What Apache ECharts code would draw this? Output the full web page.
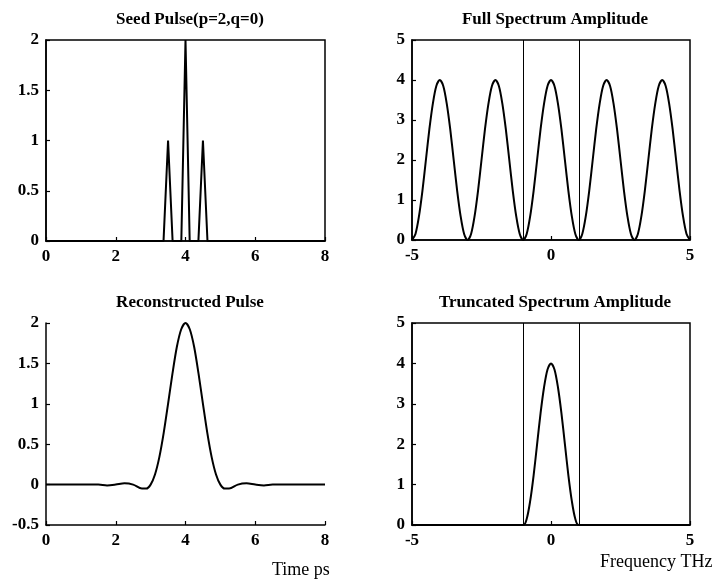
<!DOCTYPE html>
<html>
<head>
<meta charset="utf-8">
<script src="https://cdn.jsdelivr.net/npm/echarts@6/dist/echarts.min.js"></script>
<style>html,body{margin:0;padding:0;background:#fff;}#c{width:719px;height:581px;}</style>
</head>
<body>
<div id="c"></div>
<script>
// Seed pulse (time ps, amplitude)
const seedT = [0, 3.37, 3.5, 3.63, 3.88, 4.0, 4.12, 4.37, 4.5, 4.63, 8];
const seedA = [0, 0, 1, 0, 0, 2, 0, 0, 1, 0, 0];

// Full spectrum amplitude (frequency THz)
const fullF = [-5,-4.875,-4.75,-4.625,-4.5,-4.375,-4.25,-4.125,-4,-3.875,-3.75,-3.625,-3.5,-3.375,-3.25,-3.125,
  -3,-2.875,-2.75,-2.625,-2.5,-2.375,-2.25,-2.125,-2,-1.875,-1.75,-1.625,-1.5,-1.375,-1.25,-1.125,
  -1,-0.875,-0.75,-0.625,-0.5,-0.375,-0.25,-0.125,0,0.125,0.25,0.375,0.5,0.625,0.75,0.875,
  1,1.125,1.25,1.375,1.5,1.625,1.75,1.875,2,2.125,2.25,2.375,2.5,2.625,2.75,2.875,
  3,3.125,3.25,3.375,3.5,3.625,3.75,3.875,4,4.125,4.25,4.375,4.5,4.625,4.75,4.875,5];
const fullA = [0,0.15,0.59,1.23,2,2.77,3.41,3.85,4,3.85,3.41,2.77,2,1.23,0.59,0.15,
  0,0.15,0.59,1.23,2,2.77,3.41,3.85,4,3.85,3.41,2.77,2,1.23,0.59,0.15,
  0,0.15,0.59,1.23,2,2.77,3.41,3.85,4,3.85,3.41,2.77,2,1.23,0.59,0.15,
  0,0.15,0.59,1.23,2,2.77,3.41,3.85,4,3.85,3.41,2.77,2,1.23,0.59,0.15,
  0,0.15,0.59,1.23,2,2.77,3.41,3.85,4,3.85,3.41,2.77,2,1.23,0.59,0.15,0];

// Truncated spectrum amplitude
const truncF = [-5,-1,-0.875,-0.75,-0.625,-0.5,-0.375,-0.25,-0.125,0,0.125,0.25,0.375,0.5,0.625,0.75,0.875,1,5];
const truncA = [0,0,0.15,0.59,1.23,2,2.77,3.41,3.85,4,3.85,3.41,2.77,2,1.23,0.59,0.15,0,0];

// Cut-off frequencies (vertical lines)
const cutoffs = [-1, 1];

// Reconstructed pulse
const recT = [0,0.5,1,1.5,1.75,2,2.25,2.5,2.75,2.875,3,3.125,3.25,3.375,3.5,3.625,3.75,3.875,4,4.125,4.25,4.375,4.5,4.625,4.75,4.875,5,5.125,5.25,5.5,5.75,6,6.25,6.5,7,7.5,8];
const recA = [0,0,0,0,-0.01,0,0.016,0,-0.049,-0.049,0,0.125,0.34,0.64,1.0,1.37,1.70,1.92,2.0,1.92,1.70,1.37,1.0,0.64,0.34,0.125,0,-0.049,-0.049,0,0.016,0,-0.01,0,0,0,0];

// Titles and axis names
const titles = ['Seed Pulse(p=2,q=0)', 'Full Spectrum Amplitude', 'Reconstructed Pulse', 'Truncated Spectrum Amplitude'];
const xNames = ['Time ps', 'Frequency THz'];

const zip = (a, b) => a.map((v, i) => [v, b[i]]);
const FONT = 'Liberation Serif';

function axis(grid, min, max, interval) {
  return {
    type: 'value', gridIndex: grid, min, max, interval,
    axisLine: {show: true, onZero: false, lineStyle: {color: '#000', width: 1.5}},
    axisTick: {show: true, inside: true, length: 4, lineStyle: {color: '#000', width: 1.2}},
    axisLabel: {color: '#000', fontFamily: FONT, fontWeight: 'bold', fontSize: 17, margin: 7},
    splitLine: {show: false}
  };
}
const boxed = {show: true, borderColor: '#000', borderWidth: 1.5, backgroundColor: 'transparent'};
const lineStyle = {color: '#000', width: 2};
const vlines = {
  silent: true, symbol: 'none', label: {show: false},
  lineStyle: {color: '#000', width: 1, type: 'solid'},
  data: cutoffs.map(c => ({xAxis: c}))
};

const option = {
  backgroundColor: '#fff',
  animation: false,
  title: [
    {text: titles[0], left: 185, top: 6, textAlign: 'center'},
    {text: titles[1], left: 550, top: 6, textAlign: 'center'},
    {text: titles[2], left: 185, top: 289, textAlign: 'center'},
    {text: titles[3], left: 550, top: 289, textAlign: 'center'}
  ].map(t => Object.assign(t, {textStyle: {color: '#000', fontFamily: FONT, fontWeight: 'bold', fontSize: 17}})),
  graphic: [
    {type: 'text', left: 272, top: 561, style: {text: xNames[0], fill: '#000', font: '18px "Liberation Serif"'}},
    {type: 'text', left: 600, top: 553, style: {text: xNames[1], fill: '#000', font: '18px "Liberation Serif"'}}
  ],
  grid: [
    Object.assign({left: 46, top: 40, width: 279, height: 201}, boxed),
    Object.assign({left: 412, top: 40, width: 278, height: 200}, boxed),
    {left: 46, top: 323, width: 279, height: 202, show: false},
    Object.assign({left: 412, top: 323, width: 278, height: 202}, boxed)
  ],
  xAxis: [axis(0, 0, 8, 2), axis(1, -5, 5, 5), axis(2, 0, 8, 2), axis(3, -5, 5, 5)],
  yAxis: [axis(0, 0, 2, 0.5), axis(1, 0, 5, 1), axis(2, -0.5, 2, 0.5), axis(3, 0, 5, 1)],
  series: [
    {type: 'line', xAxisIndex: 0, yAxisIndex: 0, data: zip(seedT, seedA), symbol: 'none', lineStyle},
    {type: 'line', xAxisIndex: 1, yAxisIndex: 1, data: zip(fullF, fullA), symbol: 'none', smooth: 0.3, lineStyle, markLine: vlines},
    {type: 'line', xAxisIndex: 2, yAxisIndex: 2, data: zip(recT, recA), symbol: 'none', smooth: 0.3, lineStyle},
    {type: 'line', xAxisIndex: 3, yAxisIndex: 3, data: zip(truncF, truncA), symbol: 'none', smooth: 0.3, lineStyle, markLine: vlines}
  ]
};
echarts.init(document.getElementById('c'), null, {renderer: 'canvas'}).setOption(option);
</script>
</body>
</html>
